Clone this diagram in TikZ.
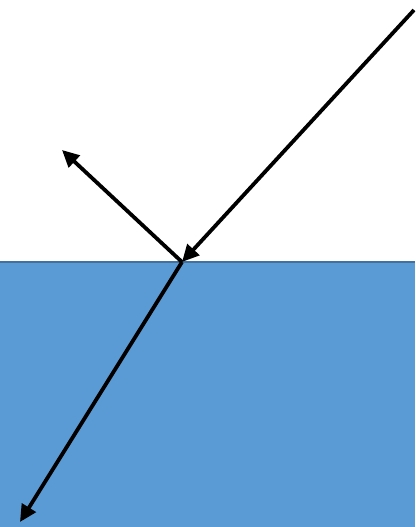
\documentclass[tikz,border=0pt]{standalone}
\usetikzlibrary{arrows.meta}
\definecolor{waterblue}{RGB}{91,155,213}
\definecolor{wateredge}{RGB}{65,113,156}

\begin{document}
\begin{tikzpicture}[
  x=1pt,y=-1pt,
  ray/.style={-{Triangle[length=17pt,width=16pt]},line width=3.8pt,line cap=butt},
]
\useasboundingbox (0,0) rectangle (415,527);

%% Water
\fill[waterblue] (0,262) rectangle (415,527);
\draw[wateredge,line width=1.8pt] (0,262) -- (415,262);

%% Points
\coordinate (src)  at (414,10);
\coordinate (hit)  at (182,262);
\coordinate (refl) at (62,150);
\coordinate (refr) at (20,522);

%% Rays
\draw[ray] (src) -- (hit);
\draw[ray] (hit) -- (refl);
\draw[ray] (hit) -- (refr);

\end{tikzpicture}
\end{document}
